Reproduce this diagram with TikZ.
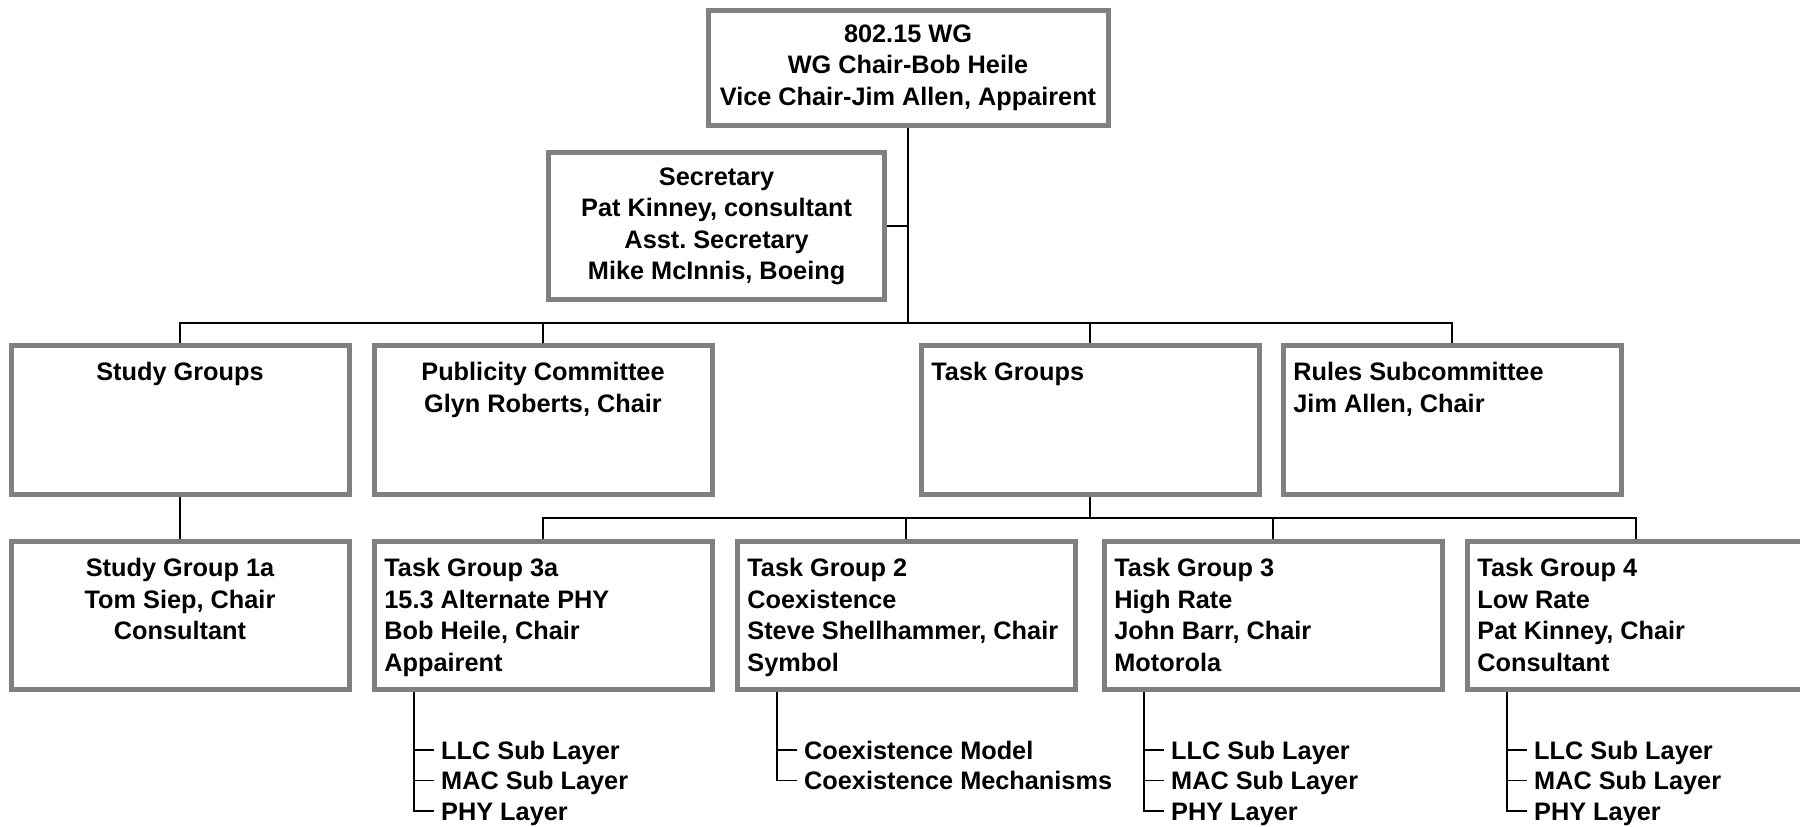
\documentclass[tikz,border=0pt]{standalone}
\usepackage{fontspec}
\setmainfont{Liberation Sans}
\frenchspacing
\definecolor{boxgray}{RGB}{128,128,128}
\tikzset{
  box/.style={draw=boxgray, line width=2.5pt, fill=white, inner sep=0pt,
    minimum width=169pt, minimum height=74.25pt},
  conn/.style={draw=black, line width=0.85pt},
  txt/.style={font=\fontsize{12.65}{15.8}\selectfont\bfseries\frenchspacing, inner sep=0pt},
  item/.style={font=\fontsize{12.65}{15.8}\selectfont\bfseries, inner ysep=0pt,
    inner xsep=3.4pt, text height=9pt, text depth=0pt, anchor=west}
}
\begin{document}
\begin{tikzpicture}[x=0.5pt,y=-0.5pt]
\useasboundingbox (0,0) rectangle (1800,826);
\clip (0,0) rectangle (1800,826);
\fill[white] (0,0) rectangle (1800,826);

% top boxes
\node[box, txt, draw=boxgray, line width=2.5pt, minimum width=200pt, minimum height=57.75pt, align=center]
  (wg) at (908,67.75) {802.15 WG\\WG Chair-Bob Heile\\Vice Chair-Jim Allen, Appairent};
\node[box, txt, draw=boxgray, line width=2.5pt, minimum width=168.1pt, minimum height=73.65pt, align=center]
  (sec) at (716.6,226.3) {Secretary\\Pat Kinney, consultant\\Asst.\ Secretary\\Mike McInnis, Boeing};

% row 1
\node[box] (sg) at (180,420) {};
\node[box] (pub) at (543,420) {};
\node[box] (tgs) at (1090,420) {};
\node[box] (rules) at (1452,420) {};

% row 2
\node[box] (sg1a) at (180,615.5) {};
\node[box] (tg3a) at (543,615.5) {};
\node[box] (tg2) at (906,615.5) {};
\node[box] (tg3) at (1273,615.5) {};
\node[box] (tg4) at (1636,615.5) {};

% texts row 1
\node[txt, anchor=north] (sgT) at ([yshift=-9.5pt]sg.north) {Study Groups};
\node[txt, anchor=north, align=center] (pubT) at ([yshift=-9.5pt]pub.north) {Publicity Committee\\Glyn Roberts, Chair};
\node[txt, anchor=north west, align=left] (tgsT) at ([xshift=6.25pt,yshift=-9.5pt]tgs.north west) {Task Groups};
\node[txt, anchor=north west, align=left] (rulesT) at ([xshift=6.25pt,yshift=-9.5pt]rules.north west) {Rules Subcommittee\\Jim Allen, Chair};

% texts row 2
\node[txt, anchor=north, align=center] (sg1aT) at ([yshift=-9.5pt]sg1a.north) {Study Group 1a\\Tom Siep, Chair\\Consultant};
\node[txt, anchor=north west, align=left] (tg3aT) at ([xshift=6.25pt,yshift=-9.5pt]tg3a.north west) {Task Group 3a\\15.3 Alternate PHY\\Bob Heile, Chair\\Appairent};
\node[txt, anchor=north west, align=left] (tg2T) at ([xshift=6.25pt,yshift=-9.5pt]tg2.north west) {Task Group 2\\Coexistence\\Steve Shellhammer, Chair\\Symbol};
\node[txt, anchor=north west, align=left] (tg3T) at ([xshift=6.25pt,yshift=-9.5pt]tg3.north west) {Task Group 3\\High Rate\\John Barr, Chair\\Motorola};
\node[txt, anchor=north west, align=left] (tg4T) at ([xshift=6.25pt,yshift=-9.5pt]tg4.north west) {Task Group 4\\Low Rate\\Pat Kinney, Chair\\Consultant};

% connectors top
\coordinate (busA) at (908,323);
\draw[conn] (wg.south) -- (busA);
\draw[conn] (sec.east) -- (sec.east -| busA);
\draw[conn] (busA) -| (sg.north);
\draw[conn] (busA) -| (pub.north);
\draw[conn] (busA) -| (tgs.north);
\draw[conn] (busA) -| (rules.north);
\draw[conn] (sg.south) -- (sg1a.north);
\coordinate (busB) at (1090,518);
\draw[conn] (tgs.south) -- (busB);
\draw[conn] (busB) -| (tg3a.north);
\draw[conn] (busB) -| (tg2.north);
\draw[conn] (busB) -| (tg3.north);
\draw[conn] (busB) -| (tg4.north);

% sub-lists
\coordinate (tg3aS) at ([xshift=21.25pt]tg3a.south west);
\node[item] (tg3aA) at (434,750) {LLC Sub Layer};
\node[item] (tg3aB) at (434,780.5) {MAC Sub Layer};
\node[item] (tg3aC) at (434,811) {PHY Layer};
\draw[conn] (tg3aS) |- (tg3aC.west);
\draw[conn] (tg3aA.west) -- (tg3aA.west -| tg3aS);
\draw[conn] (tg3aB.west) -- (tg3aB.west -| tg3aS);

\coordinate (tg2S) at ([xshift=21.25pt]tg2.south west);
\node[item] (tg2A) at (797,750) {Coexistence Model};
\node[item] (tg2B) at (797,780.5) {Coexistence Mechanisms};
\draw[conn] (tg2S) |- (tg2B.west);
\draw[conn] (tg2A.west) -- (tg2A.west -| tg2S);

\coordinate (tg3S) at ([xshift=21.25pt]tg3.south west);
\node[item] (tg3A) at (1164,750) {LLC Sub Layer};
\node[item] (tg3B) at (1164,780.5) {MAC Sub Layer};
\node[item] (tg3C) at (1164,811) {PHY Layer};
\draw[conn] (tg3S) |- (tg3C.west);
\draw[conn] (tg3A.west) -- (tg3A.west -| tg3S);
\draw[conn] (tg3B.west) -- (tg3B.west -| tg3S);

\coordinate (tg4S) at ([xshift=21.25pt]tg4.south west);
\node[item] (tg4A) at (1527,750) {LLC Sub Layer};
\node[item] (tg4B) at (1527,780.5) {MAC Sub Layer};
\node[item] (tg4C) at (1527,811) {PHY Layer};
\draw[conn] (tg4S) |- (tg4C.west);
\draw[conn] (tg4A.west) -- (tg4A.west -| tg4S);
\draw[conn] (tg4B.west) -- (tg4B.west -| tg4S);
\end{tikzpicture}
\end{document}
